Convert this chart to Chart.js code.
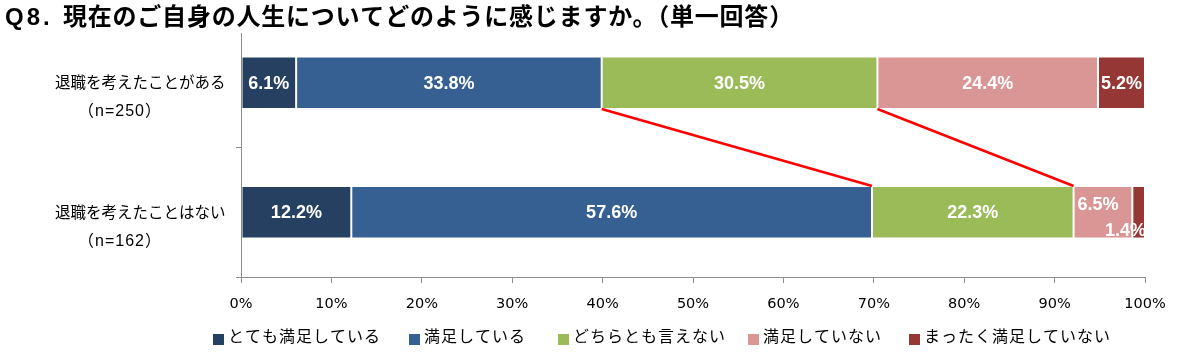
<!DOCTYPE html>
<html><head><meta charset="utf-8">
<script src="https://cdn.jsdelivr.net/npm/chart.js@4.4.1/dist/chart.umd.min.js"></script>
<style>html,body{margin:0;padding:0;background:#fff}#wrap{width:1194px;height:360px;position:relative}</style>
</head><body><div id="wrap"><canvas id="c" width="1194" height="360"></canvas></div>
<script>
const titleText = 'Q8. 現在のご自身の人生についてどのように感じますか。（単一回答）';
const categories = ['退職を考えたことがある', '退職を考えたことはない'];
const sampleSizes = ['（n=250）', '（n=162）'];
const seriesNames = ['とても満足している', '満足している', 'どちらとも言えない', '満足していない', 'まったく満足していない'];
const verySatisfied = [6.1, 12.2];
const satisfied = [33.8, 57.6];
const neutral = [30.5, 22.3];
const dissatisfied = [24.4, 6.5];
const veryDissatisfied = [5.2, 1.4];
const xTickValues = [0, 10, 20, 30, 40, 50, 60, 70, 80, 90, 100];
const seriesColors = ['#264061', '#376092', '#9BBB59', '#D99694', '#953735'];

const seriesValues = [verySatisfied, satisfied, neutral, dissatisfied, veryDissatisfied];
const CJK = '"Liberation Sans", "Noto Sans CJK JP", sans-serif';
const AXIS = '#8c8c8c';

const datasets = seriesValues.map((vals, i) => ({
  label: seriesNames[i],
  data: vals,
  backgroundColor: seriesColors[i],
  borderColor: 'rgba(255,255,255,0.45)',
  borderWidth: 1,
  borderSkipped: false,
  categoryPercentage: 1,
  barPercentage: 0.405
}));

// label placement tweaks for tiny segments (dataset index, category index)
const labelNudges = {
  '3,1': {dx: -5, dy: -8, align: 'center'},
  '4,1': {dx: 0, dy: 18, align: 'right'}
};

const customDraw = {
  id: 'customDraw',
  afterDatasetsDraw(chart) {
    const ctx = chart.ctx;
    const area = chart.chartArea;
    const yScale = chart.scales.y;
    // y axis line
    ctx.save();
    ctx.strokeStyle = AXIS;
    ctx.lineWidth = 1;
    ctx.beginPath();
    ctx.moveTo(Math.round(area.left) + 0.5, 33);
    ctx.lineTo(Math.round(area.left) + 0.5, area.bottom);
    ctx.stroke();
    ctx.restore();

    // red connector lines between boundaries
    ctx.save();
    ctx.strokeStyle = '#FF0000';
    ctx.lineWidth = 2.5;
    [1, 2].forEach(d => {
      const meta = chart.getDatasetMeta(d);
      const a = meta.data[0], b = meta.data[1];
      ctx.beginPath();
      ctx.moveTo(a.x, a.y + a.height / 2);
      ctx.lineTo(b.x, b.y - b.height / 2);
      ctx.stroke();
    });
    ctx.restore();

    // data labels
    ctx.save();
    ctx.fillStyle = '#fff';
    ctx.font = 'bold 18px "Liberation Sans", Arial, sans-serif';
    ctx.textBaseline = 'middle';
    chart.data.datasets.forEach((ds, d) => {
      const meta = chart.getDatasetMeta(d);
      meta.data.forEach((el, i) => {
        const txt = ds.data[i].toFixed(1) + '%';
        const n = labelNudges[d + ',' + i];
        let x = (el.base + el.x) / 2, y = el.y + 1;
        ctx.textAlign = 'center';
        if (n) {
          y += n.dy;
          if (n.align === 'right') { ctx.textAlign = 'right'; x = el.x + 1; }
          else x += n.dx;
        }
        ctx.fillText(txt, x, y);
      });
    });
    ctx.restore();

    // category labels
    ctx.save();
    ctx.fillStyle = '#000';
    ctx.textBaseline = 'middle';
    ctx.textAlign = 'left';
    categories.forEach((c, i) => {
      const cy = yScale.getPixelForValue(i);
      ctx.font = '15.5px ' + CJK;
      ctx.letterSpacing = '0px';
      ctx.fillText(c, 55, cy + 1);
      ctx.font = '16px ' + CJK;
      ctx.letterSpacing = '1px';
      ctx.fillText(sampleSizes[i], 78, cy + 29);
    });
    ctx.restore();

    // title: "Q8." prefix then the question, fitted to the reference width
    ctx.save();
    ctx.fillStyle = '#000';
    ctx.font = 'bold 24px ' + CJK;
    ctx.textBaseline = 'middle';
    ctx.textAlign = 'left';
    const sp = titleText.indexOf(' ');
    const head = titleText.slice(0, sp), rest = titleText.slice(sp + 1);
    ctx.letterSpacing = '3px';
    ctx.fillText(head, 5, 18);
    ctx.letterSpacing = '0px';
    const w = ctx.measureText(rest).width;
    const n = [...rest].length;
    ctx.letterSpacing = ((730 - w) / (n - 1)).toFixed(2) + 'px';
    ctx.fillText(rest, 63, 18);
    ctx.restore();

    // legend
    ctx.save();
    const lx = [213, 409, 558, 748, 909];
    ctx.font = '16px ' + CJK;
    ctx.textBaseline = 'middle';
    ctx.textAlign = 'left';
    ctx.letterSpacing = '1px';
    seriesNames.forEach((s, i) => {
      ctx.fillStyle = seriesColors[i];
      ctx.fillRect(lx[i], 334, 11, 11);
      ctx.fillStyle = '#000';
      ctx.fillText(s, lx[i] + 15, 338);
    });
    ctx.restore();
  }
};

new Chart(document.getElementById('c'), {
  type: 'bar',
  data: { labels: categories, datasets },
  plugins: [customDraw],
  options: {
    responsive: false,
    devicePixelRatio: 1,
    animation: false,
    indexAxis: 'y',
    layout: { padding: { top: 18, right: 49, left: 0, bottom: 0 } },
    plugins: { legend: { display: false }, tooltip: { enabled: false }, title: { display: false } },
    scales: {
      x: {
        stacked: true, min: 0, max: 100,
        afterBuildTicks: s => { s.ticks = xTickValues.map(v => ({ value: v })); },
        afterFit: s => { s.height = 83; },
        ticks: {
          callback: v => v + '%',
          color: '#000',
          font: { family: '"DejaVu Sans", sans-serif', size: 14.5 },
          padding: 13,
          maxRotation: 0,
          autoSkip: false
        },
        grid: { drawOnChartArea: false, tickLength: 6, color: AXIS },
        border: { display: true, color: AXIS }
      },
      y: {
        stacked: true,
        afterFit: s => { s.width = 241; },
        ticks: { display: false },
        grid: {
          offset: true, drawOnChartArea: false, tickLength: 5,
          color: c => c.index === 0 ? 'rgba(0,0,0,0)' : AXIS
        },
        border: { display: false }
      }
    }
  }
});
</script>
</body></html>
